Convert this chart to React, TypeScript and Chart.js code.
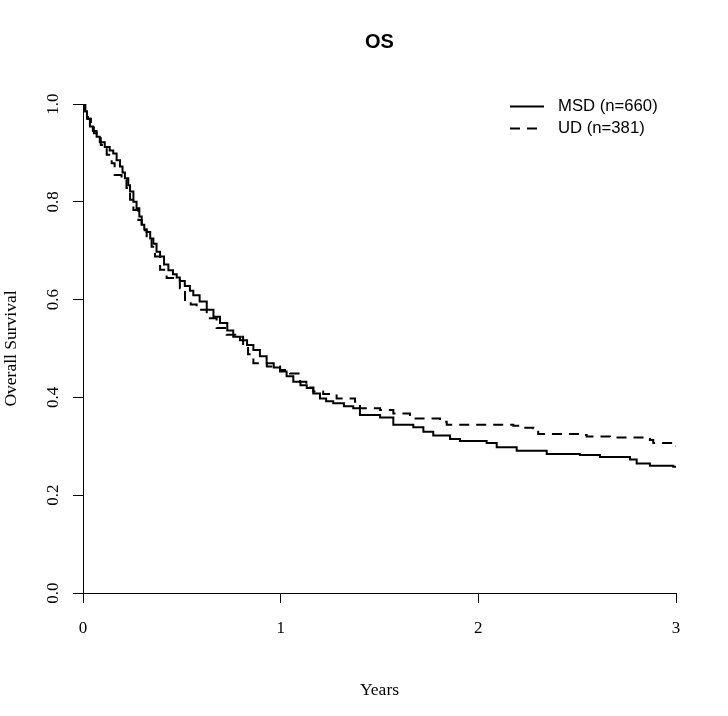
import React, { useEffect, useRef } from "react";
import { Chart, registerables } from "chart.js";

Chart.register(...registerables);

// ---- Data ----
const msdTimes = [
  0, 0.01, 0.02, 0.035, 0.05, 0.069, 0.085, 0.11, 0.135, 0.153, 0.17, 0.187, 0.2, 0.212, 0.229,
  0.238, 0.255, 0.271, 0.285, 0.297, 0.31, 0.322, 0.34, 0.356, 0.372, 0.39, 0.41, 0.432, 0.455,
  0.474, 0.49, 0.515, 0.541, 0.558, 0.59, 0.626, 0.66, 0.693, 0.73, 0.76, 0.794, 0.83, 0.862,
  0.895, 0.929, 0.965, 0.997, 1.03, 1.064, 1.1, 1.132, 1.165, 1.199, 1.23, 1.266, 1.32, 1.367,
  1.401, 1.503, 1.57, 1.671, 1.722, 1.772, 1.857, 1.907, 2.042, 2.093, 2.194, 2.346, 2.514,
  2.615, 2.767, 2.801, 2.868, 2.986, 3.0,
];
const msdSurv = [
  1.0, 0.985, 0.97, 0.954, 0.945, 0.933, 0.922, 0.912, 0.905, 0.899, 0.885, 0.872, 0.86, 0.848,
  0.834, 0.821, 0.8, 0.787, 0.77, 0.753, 0.744, 0.738, 0.725, 0.714, 0.698, 0.688, 0.672, 0.66,
  0.652, 0.645, 0.638, 0.628, 0.618, 0.609, 0.596, 0.579, 0.565, 0.552, 0.537, 0.524, 0.517,
  0.507, 0.497, 0.484, 0.47, 0.461, 0.453, 0.443, 0.432, 0.425, 0.419, 0.408, 0.398, 0.392,
  0.388, 0.382, 0.378, 0.364, 0.359, 0.344, 0.339, 0.33, 0.322, 0.315, 0.311, 0.307, 0.298,
  0.291, 0.284, 0.282, 0.278, 0.273, 0.265, 0.26, 0.258, 0.258,
];
const udTimes = [
  0, 0.012, 0.025, 0.04, 0.055, 0.075, 0.09, 0.12, 0.145, 0.16, 0.195, 0.22, 0.238, 0.255, 0.28,
  0.297, 0.322, 0.347, 0.364, 0.39, 0.423, 0.49, 0.516, 0.545, 0.575, 0.626, 0.676, 0.727, 0.777,
  0.81, 0.835, 0.862, 0.93, 0.997, 1.047, 1.098, 1.13, 1.165, 1.215, 1.283, 1.376, 1.401, 1.503,
  1.57, 1.654, 1.806, 1.84, 2.177, 2.211, 2.278, 2.303, 2.514, 2.548, 2.666, 2.868, 2.885, 2.99,
  3.0,
];
const udSurv = [
  1.0, 0.985, 0.97, 0.952, 0.94, 0.93, 0.916, 0.896, 0.879, 0.855, 0.845, 0.828, 0.804, 0.783,
  0.763, 0.742, 0.722, 0.708, 0.688, 0.661, 0.644, 0.623, 0.599, 0.59, 0.579, 0.562, 0.542, 0.528,
  0.524, 0.504, 0.488, 0.47, 0.463, 0.456, 0.449, 0.432, 0.42, 0.412, 0.407, 0.398, 0.391, 0.378,
  0.374, 0.367, 0.357, 0.35, 0.344, 0.342, 0.338, 0.337, 0.325, 0.323, 0.32, 0.318, 0.313, 0.307,
  0.3, 0.3,
];
const xTickValues = [0, 1, 2, 3];
const yTickValues = [0, 0.2, 0.4, 0.6, 0.8, 1.0];
const seriesLabels = ["MSD (n=660)", "UD (n=381)"];
const titleText = "OS";
const xTitleText = "Years";
const yTitleText = "Overall Survival";

const SERIF = '"Liberation Serif", "Times New Roman", Times, serif';
const SANS = '"Liberation Sans", Arial, Helvetica, sans-serif';
const DASH = [10, 7];

export default function App() {
  const ref = useRef<HTMLCanvasElement | null>(null);

  useEffect(() => {
    const canvas = ref.current;
    if (!canvas) return;

    const textPlugin = {
      id: "rStyleText",
      afterDraw(chart: any) {
        const { ctx, chartArea, scales } = chart;
        const yScale = scales.y;
        const cx = (chartArea.left + chartArea.right) / 2;
        const cy = (chartArea.top + chartArea.bottom) / 2;
        ctx.save();
        ctx.fillStyle = "#000";
        ctx.strokeStyle = "#000";

        // Title
        ctx.font = `bold 20px ${SANS}`;
        ctx.textAlign = "center";
        ctx.textBaseline = "middle";
        ctx.fillText(titleText, cx, 42);

        // X axis title
        ctx.font = `17.5px ${SERIF}`;
        ctx.fillText(xTitleText, cx, 690);

        // Y tick labels (rotated, R style)
        ctx.font = `17px ${SERIF}`;
        for (const v of yTickValues) {
          const py = yScale.getPixelForValue(v);
          ctx.save();
          ctx.translate(58, py);
          ctx.rotate(-Math.PI / 2);
          ctx.textAlign = "center";
          ctx.textBaseline = "alphabetic";
          ctx.fillText(v.toFixed(1), 0, 0);
          ctx.restore();
        }

        // Y axis title
        ctx.save();
        ctx.translate(16, cy);
        ctx.rotate(-Math.PI / 2);
        ctx.textAlign = "center";
        ctx.textBaseline = "alphabetic";
        ctx.font = `17.5px ${SERIF}`;
        ctx.fillText(yTitleText, 0, 0);
        ctx.restore();

        // Legend
        const lx0 = 510;
        const lx1 = 544;
        const rows = [106.5, 128.5];
        ctx.lineWidth = 2;
        rows.forEach((ry, i) => {
          ctx.beginPath();
          ctx.setLineDash(i === 0 ? [] : DASH);
          ctx.moveTo(lx0, ry);
          ctx.lineTo(lx1, ry);
          ctx.stroke();
        });
        ctx.setLineDash([]);
        ctx.font = `16.7px ${SANS}`;
        ctx.textAlign = "left";
        ctx.textBaseline = "middle";
        rows.forEach((ry, i) => {
          ctx.fillText(seriesLabels[i], 558, ry);
        });
        ctx.restore();
      },
    };

    const chart = new Chart(canvas, {
      type: "line",
      data: {
        datasets: [
          {
            label: seriesLabels[0],
            data: msdTimes.map((t, i) => ({ x: t, y: msdSurv[i] })),
            borderColor: "#000",
            borderWidth: 2,
            pointRadius: 0,
            stepped: true,
            fill: false,
          },
          {
            label: seriesLabels[1],
            data: udTimes.map((t, i) => ({ x: t, y: udSurv[i] })),
            borderColor: "#000",
            borderWidth: 2,
            borderDash: DASH,
            pointRadius: 0,
            stepped: true,
            fill: false,
          },
        ],
      },
      options: {
        responsive: false,
        animation: false,
        layout: { padding: { top: 104, right: 52, left: 0, bottom: 0 } },
        plugins: {
          legend: { display: false },
          title: { display: false },
          tooltip: { enabled: false },
        },
        scales: {
          x: {
            type: "linear",
            min: 0,
            max: 3,
            afterBuildTicks: (s: any) => {
              s.ticks = xTickValues.map((v) => ({ value: v }));
            },
            afterFit: (s: any) => {
              s.height = 123;
            },
            grid: {
              display: true,
              drawOnChartArea: false,
              drawTicks: true,
              tickLength: 10,
              color: "#000",
              lineWidth: 1,
            },
            border: { display: true, color: "#000", width: 1 },
            ticks: {
              color: "#000",
              font: { family: SERIF, size: 17 },
              padding: 15,
              maxRotation: 0,
              autoSkip: false,
              callback: (v: any) => String(v),
            },
          },
          y: {
            type: "linear",
            min: 0,
            max: 1,
            afterBuildTicks: (s: any) => {
              s.ticks = yTickValues.map((v) => ({ value: v }));
            },
            afterFit: (s: any) => {
              s.width = 83;
            },
            grid: {
              display: true,
              drawOnChartArea: false,
              drawTicks: true,
              tickLength: 10,
              color: "#000",
              lineWidth: 1,
            },
            border: { display: true, color: "#000", width: 1 },
            ticks: {
              display: true,
              color: "rgba(0,0,0,0)",
              font: { family: SERIF, size: 17 },
              autoSkip: false,
            },
          },
        },
      },
      plugins: [textPlugin],
    });

    return () => {
      chart.destroy();
    };
  }, []);

  return (
    <div
      style={{
        position: "absolute",
        left: 0,
        top: 0,
        width: 728,
        height: 716,
        background: "#fff",
      }}
    >
      <canvas ref={ref} width={728} height={716} style={{ display: "block" }} />
    </div>
  );
}
